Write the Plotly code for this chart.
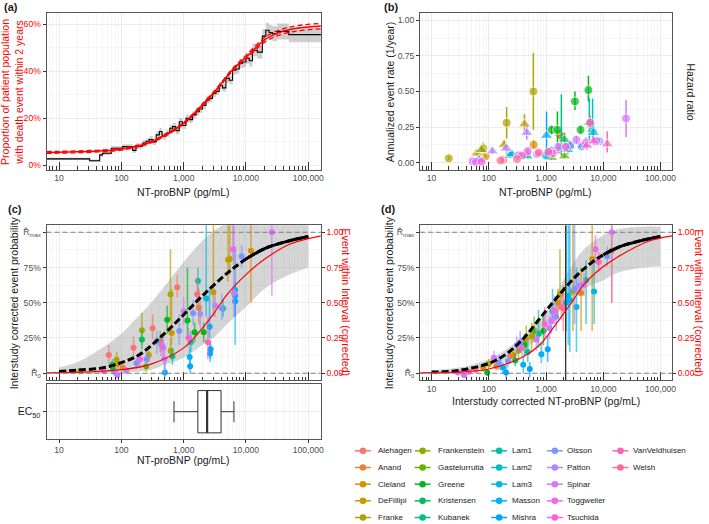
import math
import plotly.graph_objects as go

W, H = 709, 524

# ---------------- data ----------------
studies = ["Alehagen", "Anand", "Cleland", "DeFillipi", "Franke", "Frankenstein",
           "Gastelurrutia", "Greene", "Kristensen", "Kubanek", "Lam1", "Lam2", "Lam3",
           "Masson", "Mishra", "Olsson", "Patton", "Spinar", "Toggweiler", "Tsuchida",
           "VanVeldhuisen", "Welsh"]

tick_vals = [10, 100, 1000, 10000, 100000]
tick_text = ["10", "100", "1,000", "10,000", "100,000"]

# Panel (a): empirical step curve (%), its band, and fitted curve with CI (%)
a_step_x = [6.3, 31, 45, 50, 69, 105, 152, 172, 220, 250, 280, 320, 362, 408, 450, 524, 600, 664, 750, 850,
            960, 1090, 1250, 1390, 1580, 1780, 2000, 2280, 2600, 2900, 3300, 3720, 4200, 4760, 5400, 6090,
            6900, 7790, 8800, 10000, 11300, 12700, 15200, 18300, 20800, 23500, 26500, 31800, 48700, 160000]
a_step_y = [2.8, 2.0, 4.5, 5.2, 7.3, 8.0, 6.4, 8.2, 9.5, 10.3, 11.0, 10.0, 13.0, 14.4, 12.5, 13.7, 15.8, 16.5,
            14.8, 18.6, 17.0, 20.0, 19.5, 21.5, 22.8, 24.0, 25.5, 27.8, 28.5, 30.6, 31.5, 34.0, 33.0, 37.0,
            36.2, 40.5, 41.0, 43.4, 44.0, 45.5, 44.5, 49.0, 48.2, 55.0, 57.5, 56.5, 56.0, 57.0, 55.6, 55.6]
a_band_lo = [2.3, 1.5, 3.7, 4.4, 6.3, 7.0, 5.3, 7.0, 8.2, 9.0, 9.6, 8.7, 11.5, 12.9, 11.0, 12.2, 14.3, 15.0,
             13.3, 17.0, 15.5, 18.5, 18.0, 20.0, 21.2, 22.4, 23.9, 26.2, 26.9, 29.0, 29.9, 32.3, 31.3, 35.2,
             34.4, 38.6, 39.0, 41.3, 41.8, 43.2, 42.0, 46.3, 45.4, 52.0, 54.3, 53.3, 52.8, 53.6, 52.4, 52.5]
a_band_hi = [3.3, 2.5, 5.3, 6.0, 8.3, 9.0, 7.5, 9.4, 10.8, 11.6, 12.4, 11.3, 14.5, 15.9, 14.0, 15.2, 17.3, 18.0,
             16.3, 20.2, 18.5, 21.5, 21.0, 23.0, 24.4, 25.6, 27.1, 29.4, 30.1, 32.2, 33.1, 35.7, 34.7, 38.8,
             38.0, 42.4, 43.0, 45.5, 46.2, 47.8, 47.0, 51.7, 51.0, 58.0, 60.7, 59.7, 59.2, 60.4, 58.8, 60.3]
a_fit_x = [6.3, 10, 20, 50, 100, 200, 316, 500, 1000, 1780, 3300, 6000, 10000, 21000, 38000, 70000, 160000]
a_fit_y = [5.5, 5.6, 5.8, 6.2, 6.9, 8.5, 10.2, 12.8, 17.9, 24.3, 32.0, 40.5, 46.0, 53.8, 56.9, 58.4, 59.3]
a_fit_lo = [5.1, 5.2, 5.4, 5.8, 6.5, 8.1, 9.8, 12.4, 17.5, 23.8, 31.5, 40.0, 45.2, 52.8, 55.8, 57.2, 58.1]
a_fit_hi = [5.9, 6.0, 6.2, 6.6, 7.3, 8.9, 10.6, 13.2, 18.3, 24.8, 32.5, 41.0, 46.8, 54.8, 58.0, 59.5, 60.4]

# Panel (b): per-study annualized event rates (c) and hazard ratios (t, on /20 scale)
b_study = ["Franke", "Franke", "Franke", "Franke", "DeFillipi", "DeFillipi", "DeFillipi",
           "Cleland", "Cleland", "Cleland", "Anand", "Anand", "Patton", "Patton", "Patton",
           "Mishra", "Mishra", "Greene", "Greene", "Greene", "Greene", "Greene", "Kristensen",
           "Lam1", "Lam1", "Lam2", "Lam2", "Lam2", "Lam3", "Lam3", "Lam3", "Gastelurrutia",
           "Gastelurrutia", "Masson", "Masson", "Kubanek", "Olsson", "Olsson", "Olsson", "Olsson",
           "Olsson", "Spinar", "Spinar", "Spinar", "Spinar", "Spinar", "Spinar", "Toggweiler",
           "Toggweiler", "Toggweiler", "Toggweiler", "Toggweiler", "Tsuchida", "Tsuchida",
           "Tsuchida", "Tsuchida", "VanVeldhuisen", "VanVeldhuisen", "VanVeldhuisen", "Welsh",
           "Welsh", "Welsh", "Alehagen", "Alehagen", "Alehagen", "Frankenstein"]
b_x = [20, 80, 205, 600, 62, 185, 420, 88, 610, 230, 1700, 1850, 460, 115, 200, 1020, 68,
       1250, 1580, 3200, 5500, 4000, 2100, 5700, 2600, 6500, 470, 2400, 6700, 230, 4300, 1250,
       2100, 250, 1000, 1850, 8500, 4200, 2650, 1250, 330, 25000, 7600, 3400, 1650, 52, 700,
       60, 480, 2200, 5000, 1300, 75, 380, 5200, 6800, 11700, 5900, 1100, 160, 310, 750,
       180, 460, 1600, 75]
b_y = [0.03, 0.10, 0.28, 0.50, 0.065, 0.125, 0.27, 0.045, 0.125, 0.065, 0.20, 0.185, 0.21, 0.08,
       0.10, 0.19, 0.02, 0.23, 0.23, 0.43, 0.51, 0.23, 0.16, 0.28, 0.12, 0.23, 0.045, 0.09, 0.21,
       0.05, 0.115, 0.035, 0.045, 0.06, 0.05, 0.11, 0.15, 0.115, 0.12, 0.085, 0.05, 0.31, 0.15,
       0.16, 0.11, 0.01, 0.06, 0.005, 0.08, 0.11, 0.14, 0.065, 0.005, 0.05, 0.12, 0.15, 0.13,
       0.28, 0.075, 0.015, 0.025, 0.07, 0.02, 0.06, 0.09, 0.09]
b_lo = [0.02, 0.07, 0.17, 0.23, 0.045, 0.095, 0.22, 0.03, 0.095, 0.05, 0.17, 0.15, 0.16, 0.06,
        0.08, 0.05, 0.01, 0.20, 0.12, 0.37, 0.43, 0.20, 0.11, 0.12, 0.08, 0.15, 0.03, 0.06, 0.16,
        0.03, 0.09, 0.02, 0.03, 0.04, 0.03, 0.05, 0.13, 0.09, 0.10, 0.07, 0.04, 0.18, 0.12, 0.13,
        0.08, 0.005, 0.045, 0.0, 0.06, 0.08, 0.10, 0.05, 0.0, 0.04, 0.09, 0.12, 0.07, 0.24, 0.06,
        0.01, 0.02, 0.06, 0.01, 0.05, 0.07, 0.07]
b_hi = [0.045, 0.14, 0.39, 0.77, 0.09, 0.16, 0.34, 0.06, 0.16, 0.085, 0.23, 0.22, 0.26, 0.10,
        0.12, 0.36, 0.03, 0.26, 0.36, 0.50, 0.61, 0.26, 0.21, 0.45, 0.16, 0.45, 0.06, 0.12, 0.26,
        0.07, 0.14, 0.05, 0.06, 0.08, 0.07, 0.48, 0.17, 0.14, 0.14, 0.10, 0.06, 0.44, 0.18, 0.19,
        0.14, 0.015, 0.075, 0.01, 0.10, 0.14, 0.18, 0.08, 0.01, 0.06, 0.16, 0.19, 0.22, 0.33, 0.09,
        0.02, 0.03, 0.08, 0.03, 0.07, 0.11, 0.11]
b_shape = ["c", "c", "c", "c", "t", "t", "t", "c", "c", "c", "c", "c", "t", "t", "t", "t", "t",
           "c", "c", "c", "c", "c", "t", "t", "t", "t", "t", "t", "t", "t", "t", "t", "t", "t", "c",
           "t", "c", "c", "c", "c", "c", "c", "c", "c", "c", "c", "c", "c", "c", "c", "c", "c", "c",
           "c", "t", "t", "t", "c", "c", "c", "c", "c", "c", "c", "c", "t"]

# Panel (c): interstudy corrected event probability (%) vs NT-proBNP
c_study = ["Franke", "Toggweiler", "Alehagen", "Kristensen", "Greene", "Spinar", "Franke", "DeFillipi",
           "Patton", "Anand", "Patton", "Alehagen", "Olsson", "Toggweiler", "Franke", "Kristensen",
           "Gastelurrutia", "Olsson", "DeFillipi", "Alehagen", "Olsson", "Frankenstein", "Toggweiler",
           "Patton", "Spinar", "Masson", "Greene", "Franke", "Franke", "DeFillipi", "Kubanek",
           "Alehagen", "Olsson", "Spinar", "Greene", "Tsuchida", "Masson", "Mishra", "Lam2", "Olsson",
           "Greene", "Lam1", "Welsh", "Cleland", "Patton", "Greene", "Lam3", "VanVeldhuisen", "Masson",
           "Mishra", "Mishra", "DeFillipi", "Patton", "Olsson", "Lam1", "DeFillipi", "Franke",
           "Toggweiler", "Spinar", "Lam3", "Masson", "Mishra", "Olsson", "Cleland", "Spinar"]
c_x = [22, 52, 63, 72, 74, 80, 84, 88, 86, 105, 120, 157, 175, 200, 214, 214, 250, 255, 275, 318,
       370, 420, 440, 470, 490, 500, 545, 615, 620, 640, 660, 790, 850, 1000, 1150, 1200, 1250, 1270,
       1300, 1420, 1500, 1700, 1650, 1750, 1850, 2100, 2300, 2450, 2650, 2700, 2600, 3000, 3200, 4100,
       4300, 5150, 5500, 6200, 6400, 6700, 6700, 6700, 8500, 12000, 26000]
c_y = [1.5, 1.5, 13, 6, 3, 0.5, 9.5, 6.5, -1.5, 4, 2, 18, 7, 10, 30.5, 24, 5, 10, 13, 32, 22.5, 23,
       20, 18, 10, 0.5, 38, 56, 16, 28.5, 12, 61, 30, 44, 37.5, 25, 11.5, 5, 22, 42.5, 29, 65.5, 56,
       46.5, 42, 29, 53, 22, 14, 17, 33, 57.5, 48, 46, 46, 80.5, 81, 88, 57, 59, 55, 51, 83, 87, 100]
c_lo = [0.5, 0, 7, 2, 0, -2, 5, 2, -3, 2, 0, 10, 3, 5, 20, 17, 1, 5, 8, 24, 14, 15, 12, 10, 0, -3,
        28, 38, 10, 20, 6, 54, 20, 34, 27, 18, 4, 0, 15, 34, 22, 52, 45, 35, 32, 22, 40, 10, 8, 10, 25,
        40, 40, 38, 40, 65, 70, 80, 40, 20, 45, 40, 75, 50, 55]
c_hi = [2.5, 3, 20, 10, 6, 3, 15, 11, 0.5, 6, 4, 26, 11, 15, 43, 31, 10, 16, 18, 42, 30, 30, 28, 27,
        18, 8, 48, 88, 25, 60, 18, 70, 42, 54, 75, 32, 18, 10, 30, 52, 36, 75, 68, 60, 52, 36, 110, 40,
        22, 23, 60, 110, 56, 56, 52, 110, 110, 110, 110, 90, 65, 62, 91, 110, 110]
c_fit_x = [10, 20, 50, 100, 200, 500, 1000, 2000, 5000, 10000, 20000, 50000, 100000]
c_fit_y = [1.3, 2.2, 3.8, 7.5, 13.5, 28.5, 41.5, 55, 71, 81, 88.5, 94, 97]
c_red_x = [6.3, 10, 30, 100, 300, 1000, 2000, 3000, 5000, 10000, 20000, 50000, 160000]
c_red_y = [0.3, 0.4, 1.0, 2.5, 6.5, 18, 32, 42, 56, 70, 81, 91.5, 97.5]
c_band_x = [10, 20, 30, 50, 100, 150, 300, 500, 1000, 2000, 3000, 5000, 10000, 20000, 50000, 100000]
c_band_lo = [0, 0, 0, 0, 0.3, 0.8, 2.5, 6, 11, 20, 25, 35, 47, 60, 70, 75]
c_band_hi = [4, 8, 12, 18, 28, 36, 50, 62, 79, 94, 101, 106, 106, 106, 106, 106]

# EC50 box summary (pg/mL)
ec50_min, ec50_q1, ec50_med, ec50_q3, ec50_max = 700, 1690, 2380, 3980, 6410

# Panel (d): vs interstudy corrected NT-proBNP
d_study = ["Toggweiler", "Spinar", "Tsuchida", "Welsh", "DeFillipi", "Greene", "Franke", "Spinar",
           "Anand", "Olsson", "Masson", "Mishra", "Olsson", "Alehagen", "Cleland", "Kristensen",
           "Patton", "Frankenstein", "Olsson", "Toggweiler", "Masson", "Greene", "DeFillipi", "Lam1",
           "Mishra", "Franke", "Gastelurrutia", "Spinar", "Kubanek", "Masson", "Greene", "Tsuchida",
           "Mishra", "Patton", "Spinar", "Lam2", "Toggweiler", "Olsson", "Cleland", "Franke", "Welsh",
           "Alehagen", "Mishra", "Lam3", "Masson", "DeFillipi", "Olsson", "Lam3", "Patton", "Cleland",
           "Spinar", "Lam1", "DeFillipi", "Lam3", "Toggweiler", "VanVeldhuisen", "Olsson", "Cleland",
           "Spinar"]
d_x = [29, 37, 45, 59, 80, 94, 100, 123, 135, 150, 175, 200, 215, 240, 270, 290, 308, 330, 353, 380,
       400, 420, 450, 480, 520, 560, 620, 680, 740, 830, 900, 950, 1070, 1150, 1230, 1300, 1400, 1500,
       1600, 1750, 1850, 2000, 2250, 2450, 2600, 2950, 3150, 3400, 3700, 4100, 4600, 5000, 6400, 6900,
       7300, 8300, 11700, 14000, 14100]
d_y = [0.5, -1.5, 1, 2.5, 4, 0.5, 6.5, 11, 5, 7.5, 4, 0.5, 8.5, 12, 13, 9, 20, 16, 22, 18, 6, 20, 24,
       15, 3, 26, 30, 24, 28, 13.5, 30, 35, 17, 32, 37, 44, 44, 40, 50, 56, 47, 46, 50, 55, 52, 58, 60,
       47, 62, 57, 63, 66, 81, 58, 88, 79, 83, 87, 100]
d_lo = [-1, -3, 0, 0.5, 1, -2, 3, 7, 2, 2, 0, -3, 4, 7, 8, 5, 14, 9, 16, 12, 0, 12, 14, 8, -3, 16, 22,
        16, 18, 7, 20, 25, 8, 24, 28, 35, 35, 30, 40, 48, 38, 30, 30, 20, 15, 30, 35, 15, 55, 30, 55, 35,
        30, 35, 78, 72, 76, 50, 50]
d_hi = [2, 0, 2.5, 4.5, 7, 3, 10, 16, 8, 13, 8, 6, 13, 17, 18, 14, 26, 23, 30, 25, 12, 28, 34, 22, 8,
        36, 40, 32, 45, 22, 40, 47, 27, 40, 46, 60, 55, 50, 60, 88, 56, 62, 110, 110, 110, 110, 110, 75,
        70, 75, 71, 80, 110, 80, 98, 86, 90, 110, 110]
d_fit_x = [10, 30, 100, 200, 400, 800, 1500, 3000, 5600, 10000, 20000, 50000, 100000]
d_fit_y = [0.8, 2, 7, 13.5, 24.5, 39.5, 53, 67, 77, 84, 90, 94.5, 97]
d_red_x = [6.3, 10, 30, 100, 400, 770, 1500, 2880, 4600, 9500, 17000, 60000, 160000]
d_red_y = [0.3, 0.4, 0.8, 3, 11.7, 20, 35, 51, 63, 75, 82, 93.5, 97.5]
d_band_x = [10, 30, 100, 300, 600, 1230, 2200, 4600, 10000, 17000, 50000, 100000]
d_band_lo = [0, 0.8, 5, 13, 22, 33, 51, 60, 66, 71, 75, 76]
d_band_hi = [2, 4, 10, 22, 33, 49, 69, 88, 98, 102, 104, 104]
d_ec50 = 2200

# ---------------- helpers ----------------
def hcl_rgb(h, c=100.0, l=65.0):
    hr = math.radians(h)
    u, v = c * math.cos(hr), c * math.sin(hr)
    xn, yn, zn = 95.047, 100.0, 108.883
    den = xn + 15 * yn + 3 * zn
    un, vn = 4 * xn / den, 9 * yn / den
    Y = yn * ((l + 16) / 116) ** 3
    up = u / (13 * l) + un
    vp = v / (13 * l) + vn
    X = 9.0 * Y * up / (4 * vp)
    Z = Y * (12 - 3 * up - 20 * vp) / (4 * vp)
    X, Y, Z = X / 100, Y / 100, Z / 100
    r = 3.240479 * X - 1.537150 * Y - 0.498535 * Z
    g = -0.969256 * X + 1.875992 * Y + 0.041556 * Z
    b = 0.055648 * X - 0.204043 * Y + 1.057311 * Z

    def gam(t):
        t = 12.92 * t if t <= 0.0031308 else 1.055 * t ** (1 / 2.4) - 0.055
        return int(max(0, min(255, round(t * 255))))
    return (gam(r), gam(g), gam(b))


n = len(studies)
rgb = {s: hcl_rgb(15 + i * 360.0 / n) for i, s in enumerate(studies)}
hexc = {s: "#%02X%02X%02X" % rgb[s] for s in studies}
rgba = {s: "rgba(%d,%d,%d,0.65)" % rgb[s] for s in studies}


def fx(px):
    return px / W


def fy(py):
    return 1 - py / H


FONT = "Liberation Sans, Arial, Helvetica, sans-serif"
GRID = "#EBEBEB"
MGRID = "#F5F5F5"
BORDER = "#555555"
TICKC = "#333333"
TICKF = dict(size=8.6, color="#4D4D4D", family=FONT)
RED = "#FF0000"

minor_x = [k * 10 ** e for e in range(0, 6) for k in range(2, 10)]


def xaxis(domain, anchor, labels=True, inside=True, matches=None):
    d = dict(type="log", domain=domain, anchor=anchor, range=[0.8, 5.2], tickmode="array",
             tickvals=tick_vals, ticktext=tick_text, showticklabels=labels,
             ticks="inside" if inside else "outside", ticklen=8 if inside else 3, tickwidth=1,
             tickcolor=TICKC, tickfont=TICKF, showgrid=True, gridcolor=GRID, gridwidth=0.8,
             showline=True, linecolor=BORDER, linewidth=1, mirror=True, zeroline=False,
             minor=dict(tickmode="array", tickvals=minor_x, ticks="inside" if inside else "",
                        ticklen=3.5, tickcolor=TICKC, tickwidth=0.8, showgrid=True,
                        gridcolor=MGRID, gridwidth=0.5))
    if matches:
        d["matches"] = matches
    return d


def yaxis(domain, anchor, rng, vals, text, minor_vals, font=TICKF):
    return dict(domain=domain, anchor=anchor, range=rng, tickmode="array", tickvals=vals,
                ticktext=text, ticks="outside", ticklen=3, tickwidth=1, tickcolor=TICKC,
                tickfont=font, showgrid=True, gridcolor=GRID, gridwidth=0.8, showline=True,
                linecolor=BORDER, linewidth=1, mirror=True, zeroline=False,
                minor=dict(tickmode="array", tickvals=minor_vals, ticks="", showgrid=True,
                           gridcolor=MGRID, gridwidth=0.5))


def yright(over, anchor, rng, vals, text, color):
    return dict(overlaying=over, anchor=anchor, side="right", range=rng, tickmode="array",
                tickvals=vals, ticktext=text, ticks="outside", ticklen=3, tickwidth=1,
                tickcolor=TICKC, tickfont=dict(size=8.6, color=color, family=FONT),
                showgrid=False, showline=False, zeroline=False)


fig = go.Figure()

# ---------------- panel (a) ----------------
fig.add_trace(go.Scatter(x=a_step_x, y=[v / 100 for v in a_band_lo], mode="lines", line=dict(width=0, shape="hv"),
                         xaxis="x", yaxis="y", hoverinfo="skip"))
fig.add_trace(go.Scatter(x=a_step_x, y=[v / 100 for v in a_band_hi], mode="lines", line=dict(width=0, shape="hv"),
                         fill="tonexty", fillcolor="rgba(150,150,150,0.45)", xaxis="x", yaxis="y"))
fig.add_trace(go.Scatter(x=a_step_x, y=[v / 100 for v in a_step_y], mode="lines",
                         line=dict(color="black", width=1.1, shape="hv"), xaxis="x", yaxis="y"))
for arr in (a_fit_lo, a_fit_hi):
    fig.add_trace(go.Scatter(x=a_fit_x, y=[v / 100 for v in arr], mode="lines",
                             line=dict(color=RED, width=1.3, dash="5px,3px", shape="spline"),
                             xaxis="x", yaxis="y"))
fig.add_trace(go.Scatter(x=a_fit_x, y=[v / 100 for v in a_fit_y], mode="lines",
                         line=dict(color=RED, width=1.5, shape="spline"), xaxis="x", yaxis="y"))

# ---------------- panel (b) ----------------
for s in studies:
    idx = [i for i, v in enumerate(b_study) if v == s]
    if not idx:
        continue
    fig.add_trace(go.Scatter(
        x=[b_x[i] for i in idx], y=[b_y[i] for i in idx], mode="markers",
        marker=dict(color=hexc[s], size=[9 if b_shape[i] == "c" else 11 for i in idx],
                    symbol=["circle" if b_shape[i] == "c" else "triangle-up" for i in idx]),
        error_y=dict(type="data", symmetric=False, array=[b_hi[i] - b_y[i] for i in idx],
                     arrayminus=[b_y[i] - b_lo[i] for i in idx], color=hexc[s], thickness=1.5, width=0),
        xaxis="x2", yaxis="y2"))


# ---------------- panels (c) and (d) ----------------
def curve_panel(xa, ya, yr, band_x, band_lo, band_hi, fit_x, fit_y, red_x, red_y, st, xs, ys, los, his):
    fig.add_trace(go.Scatter(x=band_x, y=band_lo, mode="lines", line=dict(width=0, shape="spline"),
                             xaxis=xa, yaxis=ya))
    fig.add_trace(go.Scatter(x=band_x, y=band_hi, mode="lines", line=dict(width=0, shape="spline"),
                             fill="tonexty", fillcolor="rgba(150,150,150,0.4)", xaxis=xa, yaxis=ya))
    fig.add_trace(go.Scatter(x=red_x, y=[v / 100 for v in red_y], mode="lines",
                             line=dict(color=RED, width=1.2, shape="spline"), xaxis=xa, yaxis=yr))
    for s in studies:
        idx = [i for i, v in enumerate(st) if v == s]
        if not idx:
            continue
        fig.add_trace(go.Scatter(
            x=[xs[i] for i in idx], y=[ys[i] for i in idx], mode="markers",
            marker=dict(color=hexc[s], size=6),
            error_y=dict(type="data", symmetric=False, array=[his[i] - ys[i] for i in idx],
                         arrayminus=[ys[i] - los[i] for i in idx], color=rgba[s], thickness=1.6, width=0),
            xaxis=xa, yaxis=ya))
    fig.add_trace(go.Scatter(x=fit_x, y=fit_y, mode="lines",
                             line=dict(color="black", width=3, dash="7px,3px", shape="spline"),
                             xaxis=xa, yaxis=ya))
    k = [i for i, v in enumerate(fit_x) if v >= 10000]
    fig.add_trace(go.Scatter(x=[fit_x[i] for i in k], y=[fit_y[i] for i in k], mode="lines",
                             line=dict(color="black", width=3, shape="spline"), xaxis=xa, yaxis=ya))


curve_panel("x3", "y3", "y7", c_band_x, c_band_lo, c_band_hi, c_fit_x, c_fit_y, c_red_x, c_red_y,
            c_study, c_x, c_y, c_lo, c_hi)
curve_panel("x5", "y5", "y8", d_band_x, d_band_lo, d_band_hi, d_fit_x, d_fit_y, d_red_x, d_red_y,
            d_study, d_x, d_y, d_lo, d_hi)
fig.add_trace(go.Scatter(x=[d_ec50, d_ec50], y=[-5, 105], mode="lines",
                         line=dict(color="#333333", width=1.3), xaxis="x5", yaxis="y5"))

# EC50 box
fig.add_trace(go.Box(q1=[ec50_q1], median=[ec50_med], q3=[ec50_q3], lowerfence=[ec50_min],
                     upperfence=[ec50_max], y=[0], orientation="h", width=0.77, boxpoints=False,
                     fillcolor="white", line=dict(color="#333333", width=1), xaxis="x4", yaxis="y4"))
fig.add_trace(go.Scatter(x=[ec50_med, ec50_med], y=[-0.385, 0.385], mode="lines",
                         line=dict(color="#333333", width=2.2), xaxis="x4", yaxis="y4"))

# ---------------- layout ----------------
A_X = [fx(46.8), fx(322.6)]
B_X = [fx(422.5), fx(675.8)]
TOP_Y = [fy(170), fy(13.3)]
C_Y = [fy(381), fy(225.7)]
E_Y = [fy(440), fy(385)]

pct_vals = [0, 25, 50, 75, 100]
pct_text = ["R\u0302<sub>0</sub>", "25%", "50%", "75%", "R\u0302<sub>max</sub>"]
frac_vals = [0, 0.25, 0.5, 0.75, 1.0]
frac_text = ["0.00", "0.25", "0.50", "0.75", "1.00"]

fig.update_layout(
    width=W, height=H, autosize=False, margin=dict(l=0, r=0, t=0, b=0),
    paper_bgcolor="white", plot_bgcolor="white", showlegend=False,
    font=dict(family=FONT, size=9, color="#1A1A1A"),
    xaxis=xaxis(A_X, "y"),
    yaxis=yaxis(TOP_Y, "x", [-0.018, 0.647], [0, 0.2, 0.4, 0.6], ["0%", "20%", "40%", "60%"],
                [0.1, 0.3, 0.5], font=dict(size=8.6, color=RED, family=FONT)),
    xaxis2=xaxis(B_X, "y2"),
    yaxis2=yaxis(TOP_Y, "x2", [-0.05, 1.05], frac_vals, frac_text, [0.125, 0.375, 0.625, 0.875]),
    yaxis6=yright("y2", "x2", [-1, 21], [0, 5, 10, 15, 20], ["0", "5", "10", "15", "20"], "#4D4D4D"),
    xaxis3=xaxis(A_X, "y3", labels=False),
    yaxis3=yaxis(C_Y, "x3", [-5, 105], pct_vals, pct_text, [12.5, 37.5, 62.5, 87.5]),
    yaxis7=yright("y3", "x3", [-0.05, 1.05], frac_vals, frac_text, RED),
    xaxis4=xaxis(A_X, "y4", inside=False, matches="x3"),
    yaxis4=dict(domain=E_Y, anchor="x4", range=[-0.5, 0.5], tickmode="array", tickvals=[0],
                ticktext=["EC<sub>50</sub>"], ticks="outside", ticklen=3, tickcolor=TICKC,
                tickfont=dict(size=10.5, color="#1A1A1A", family=FONT), showgrid=True, gridcolor=GRID,
                showline=True, linecolor=BORDER, linewidth=1, mirror=True, zeroline=False),
    xaxis5=xaxis(B_X, "y5"),
    yaxis5=yaxis(C_Y, "x5", [-5, 105], pct_vals, pct_text, [12.5, 37.5, 62.5, 87.5]),
    yaxis8=yright("y5", "x5", [-0.05, 1.05], frac_vals, frac_text, RED),
)

# dashed reference lines at R0 and Rmax
for xa, ya in (("x3", "y3"), ("x5", "y5")):
    for yv in (0, 100):
        fig.add_shape(type="line", xref=xa + " domain", yref=ya, x0=0, x1=1, y0=yv, y1=yv,
                      line=dict(color="#7F7F7F", width=1.1, dash="5px,3px"), layer="above")

# ---------------- annotations (titles, panel letters) ----------------
ann = []


def text(x, y, s, size=10.5, color="#1A1A1A", angle=0, xanchor="center", bold=False):
    ann.append(dict(x=fx(x), y=fy(y), xref="paper", yref="paper", text=("<b>%s</b>" % s) if bold else s,
                    showarrow=False, textangle=angle, xanchor=xanchor, yanchor="middle",
                    font=dict(size=size, color=color, family=FONT)))


text(2, 7, "(a)", 11, xanchor="left", bold=True)
text(384, 7, "(b)", 11, xanchor="left", bold=True)
text(6, 209, "(c)", 11, xanchor="left", bold=True)
text(381, 209, "(d)", 11, xanchor="left", bold=True)

text(11.5, 91.7, "Proportion of patient population<br>with death event within 2 years", 10.5, RED, -90)
text(184.7, 192, "NT-proBNP (pg/mL)")
text(392, 91.7, "Annualized event rate (1/year)", angle=-90)
text(695, 91.7, "Hazard ratio", angle=90)
text(549, 192, "NT-proBNP (pg/mL)")

text(15, 303, "Interstudy corrected event probability", angle=-90)
text(348, 303, "Event within Interval (corrected)", color=RED, angle=90)
text(184.7, 461, "NT-proBNP (pg/mL)")

text(392, 303, "Interstudy corrected event probability", angle=-90)
text(703, 303, "Event within interval (corrected)", color=RED, angle=90)
text(549, 402, "Interstudy corrected NT-proBNP (pg/mL)")

# ---------------- legend (manual, 5 rows per column) ----------------
col_marker = [365, 425, 502, 558, 624]
col_text = [378, 438, 513, 568, 635]
row_y = [451.7, 468.4, 485.1, 501.8, 518.5]
for i, s in enumerate(studies):
    cidx, ridx = i // 5, i % 5
    mx, my = col_marker[cidx], row_y[ridx]
    fig.add_shape(type="line", xref="paper", yref="paper", x0=fx(mx - 8), x1=fx(mx + 8),
                  y0=fy(my), y1=fy(my), line=dict(color=hexc[s], width=1.5))
    fig.add_shape(type="circle", xref="paper", yref="paper", x0=fx(mx - 3.3), x1=fx(mx + 3.3),
                  y0=fy(my + 3.3), y1=fy(my - 3.3), fillcolor=hexc[s], line=dict(width=0))
    ann.append(dict(x=fx(col_text[cidx]), y=fy(my), xref="paper", yref="paper", text=s,
                    showarrow=False, xanchor="left", yanchor="middle",
                    font=dict(size=8, color="#1A1A1A", family=FONT)))

fig.update_layout(annotations=ann)
fig.write_html("out.html", config={"displayModeBar": False},
               post_script="document.body.style.margin='0px';document.body.style.overflow='hidden';")
